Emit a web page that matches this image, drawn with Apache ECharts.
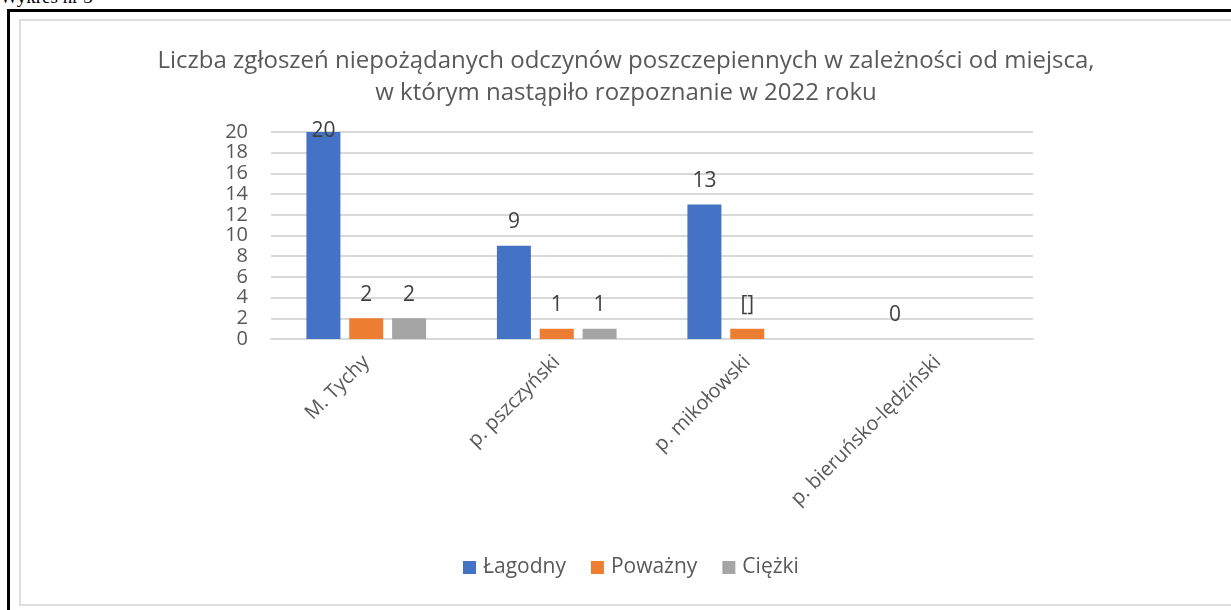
<!DOCTYPE html>
<html>
<head>
<meta charset="utf-8">
<script src="https://cdn.jsdelivr.net/npm/echarts@6/dist/echarts.min.js"></script>
<style>
  html, body { margin: 0; padding: 0; background: #fff; overflow: hidden; }
  #caption { position: absolute; left: 0; top: -13px; font: 19px/19px "Liberation Serif", serif; color: #000; }
  #frame { position: absolute; left: 7px; top: 9px; width: 1300px; height: 700px;
           border-left: 3px solid #000; border-top: 3px solid #000; }
  #box { position: absolute; left: 19px; top: 19px; width: 1300px; height: 583px;
         border: 2px solid #dedede; }
  #chart { position: absolute; left: 0; top: 0; width: 1231px; height: 610px; }
</style>
</head>
<body>
<div id="caption">Wykres nr 3</div>
<div id="frame"></div>
<div id="box"></div>
<div id="chart"></div>
<script>
const TITLE = 'Liczba zgłoszeń niepożądanych odczynów poszczepiennych w zależności od miejsca,\nw którym nastąpiło rozpoznanie w 2022 roku';
const CATEGORIES = ['M. Tychy', 'p. pszczyński', 'p. mikołowski', 'p. bieruńsko-lędziński'];
const SERIES_NAMES = ['Łagodny', 'Poważny', 'Ciężki'];
const LAGODNY = [20, 9, 13, 0];
const POWAZNY = [2, 1, 1, 0];
const CIEZKI = [2, 1, 0, 0];
// Labels as they appear in the source chart (empty = not shown)
const LAGODNY_LABELS = ['20', '9', '13', '0'];
const POWAZNY_LABELS = ['2', '1', '[]', ''];
const CIEZKI_LABELS = ['2', '1', '', ''];
const COLORS = ['#4472c4', '#ed7d31', '#a5a5a5'];

const FONT = '"Open Sans", sans-serif';

function barData(values, labels) {
  return values.map((v, i) => {
    const item = { value: v, labelText: labels[i] };
    // the top bar's label sits on its upper edge (clipped by plot top)
    if (v === 20) item.label = { position: 'top', distance: -10 };
    return item;
  });
}

function barSeries(name, values, labels, color) {
  return {
    name,
    type: 'bar',
    data: barData(values, labels),
    barWidth: 34,
    barGap: '26%',
    itemStyle: { color },
    label: {
      show: true,
      position: 'top',
      distance: 13,
      fontFamily: FONT,
      fontSize: 21,
      color: '#404040',
      formatter: p => p.data.labelText,
    },
  };
}

const chart = echarts.init(document.getElementById('chart'));
chart.setOption({
  animation: false,
  textStyle: { fontFamily: FONT },
  title: {
    text: TITLE,
    left: 621,
    top: 40,
    textAlign: 'center',
    textStyle: {
      fontFamily: FONT,
      fontSize: 24,
      fontWeight: 'normal',
      color: '#595959',
      lineHeight: 32,
      align: 'center',
    },
  },
  legend: {
    bottom: 27,
    left: 458,
    itemWidth: 13,
    itemHeight: 13,
    itemGap: 25,
    icon: 'rect',
    textStyle: { fontFamily: FONT, fontSize: 21, color: '#595959', padding: [0, 0, 0, 2] },
    data: SERIES_NAMES,
  },
  grid: { left: 271, right: 198, top: 132, bottom: 271, containLabel: false },
  xAxis: {
    type: 'category',
    data: CATEGORIES,
    axisLine: { lineStyle: { color: '#d9d9d9', width: 2 } },
    axisTick: { show: false },
    axisLabel: {
      rotate: 45,
      margin: 20,
      interval: 0,
      fontFamily: FONT,
      fontSize: 20,
      color: '#595959',
    },
  },
  yAxis: {
    type: 'value',
    min: 0,
    max: 20,
    interval: 2,
    axisLine: { show: false },
    axisTick: { show: false },
    splitLine: { lineStyle: { color: '#d9d9d9', width: 2 } },
    axisLabel: {
      margin: 23,
      fontFamily: FONT,
      fontSize: 20,
      color: '#595959',
    },
  },
  series: [
    barSeries(SERIES_NAMES[0], LAGODNY, LAGODNY_LABELS, COLORS[0]),
    barSeries(SERIES_NAMES[1], POWAZNY, POWAZNY_LABELS, COLORS[1]),
    barSeries(SERIES_NAMES[2], CIEZKI, CIEZKI_LABELS, COLORS[2]),
  ],
});
</script>
</body>
</html>
